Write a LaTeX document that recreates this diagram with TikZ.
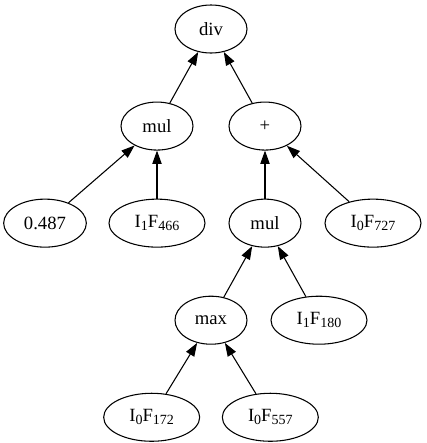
\documentclass[tikz,border=0pt]{standalone}
\usepackage{fontspec}
\setmainfont{Liberation Serif}
\usetikzlibrary{positioning, arrows.meta, shapes.geometric}
\newcommand{\idx}[1]{\raisebox{-2.5pt}{\fontsize{10.5}{12}\selectfont #1}}

\begin{document}
\begin{tikzpicture}[
  node distance=36pt and 0pt,
  op/.style={ellipse, draw, line width=0.8pt, minimum width=54pt, minimum height=36pt, inner sep=2pt, font=\fontsize{14}{17}\selectfont},
  leaf/.style={op, minimum width=72pt},
  arr/.style={-{Triangle[length=10pt, width=7pt]}, line width=0.8pt},
]

\useasboundingbox (-158.25pt,21.75pt) rectangle (162pt,-310.5pt);

\node[op] (div) at (0,0) {div};

\node[op, below=of div, xshift=-40.5pt] (mulA) {mul};
\node[op, below=of div, xshift=40.5pt] (plus) {+};

\node[op, minimum width=62pt, below=of mulA, xshift=-84pt] (c1) {0.487};
\node[leaf, below=of mulA] (f466) {I\idx{1}F\idx{466}};
\node[op, below=of plus] (mulB) {mul};
\node[leaf, below=of plus, xshift=81pt] (f727) {I\idx{0}F\idx{727}};

\node[op, below=of mulB, xshift=-40.5pt] (mx) {max};
\node[leaf, below=of mulB, xshift=40.5pt] (f180) {I\idx{1}F\idx{180}};

\node[leaf, below=of mx, xshift=-44.5pt] (f172) {I\idx{0}F\idx{172}};
\node[leaf, below=of mx, xshift=44.5pt] (f557) {I\idx{0}F\idx{557}};

\draw[arr] (mulA) -- (div);
\draw[arr] (plus) -- (div);
\draw[arr] (c1) -- (mulA);
\draw[arr] (f466) -- (mulA);
\draw[arr] (mulB) -- (plus);
\draw[arr] (f727) -- (plus);
\draw[arr] (mx) -- (mulB);
\draw[arr] (f180) -- (mulB);
\draw[arr] (f172) -- (mx);
\draw[arr] (f557) -- (mx);

\end{tikzpicture}
\end{document}
